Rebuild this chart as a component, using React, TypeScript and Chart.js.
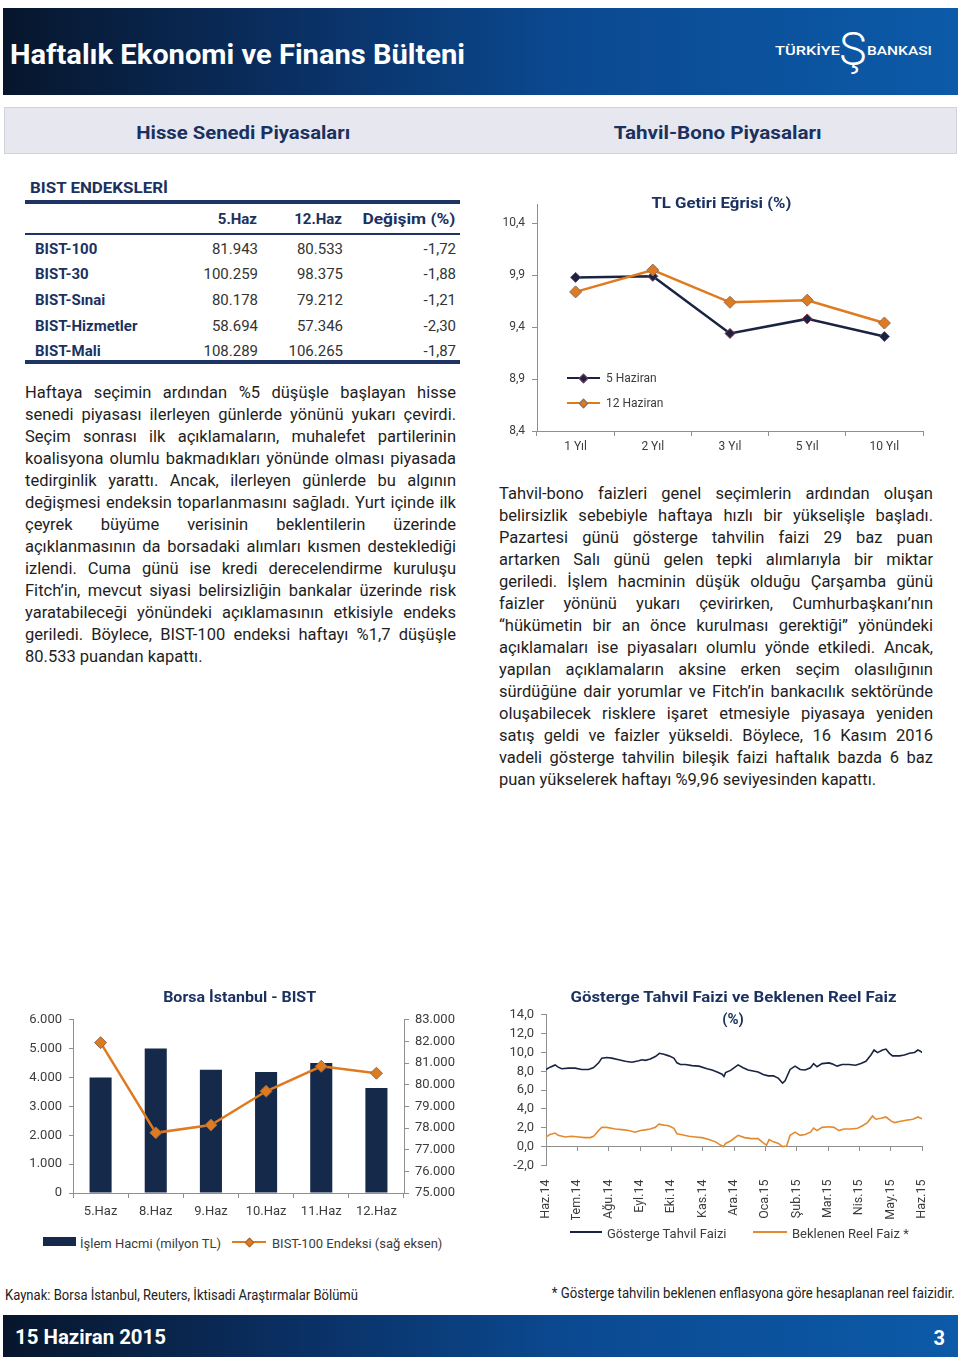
import React, { useEffect, useLayoutEffect, useRef } from 'react';
import { Chart, registerables } from 'chart.js';
Chart.register(...registerables);

// ---------- DATA ----------
const indexNames = ['BIST-100', 'BIST-30', 'BIST-Sınai', 'BIST-Hizmetler', 'BIST-Mali'];
const values5Haz = ['81.943', '100.259', '80.178', '58.694', '108.289'];
const values12Haz = ['80.533', '98.375', '79.212', '57.346', '106.265'];
const changePct = ['-1,72', '-1,88', '-1,21', '-2,30', '-1,87'];

const curveCategories = ['1 Yıl', '2 Yıl', '3 Yıl', '5 Yıl', '10 Yıl'];
const curve5Haz = [9.88, 9.89, 9.34, 9.48, 9.31];
const curve12Haz = [9.74, 9.95, 9.64, 9.66, 9.44];
const curveTicks = [8.4, 8.9, 9.4, 9.9, 10.4];

const bistDays = ['5.Haz', '8.Haz', '9.Haz', '10.Haz', '11.Haz', '12.Haz'];
const bistVolume = [4000, 5010, 4270, 4190, 4500, 3640];
const bist100 = [81943, 77780, 78140, 79700, 80850, 80533];

const monthLabels = ['Haz.14', 'Tem.14', 'Ağu.14', 'Eyl.14', 'Eki.14', 'Kas.14', 'Ara.14', 'Oca.15', 'Şub.15', 'Mar.15', 'Nis.15', 'May.15', 'Haz.15'];
const bondMonths = [0, 0.13, 0.29, 0.39, 0.5, 0.72, 0.93, 1.14, 1.36, 1.52, 1.68, 1.78, 1.94, 2.1, 2.32, 2.53, 2.74, 2.96, 3.06, 3.17, 3.33, 3.49, 3.62, 3.76, 3.92, 4.08, 4.18, 4.29, 4.45, 4.66, 4.88, 5.14, 5.3, 5.46, 5.62, 5.68, 5.73, 5.89, 6.13, 6.29, 6.45, 6.61, 6.77, 6.93, 7.09, 7.26, 7.42, 7.55, 7.63, 7.79, 7.95, 8.11, 8.27, 8.44, 8.54, 8.65, 8.81, 9.03, 9.13, 9.29, 9.45, 9.67, 9.88, 10.05, 10.21, 10.37, 10.47, 10.58, 10.74, 10.85, 10.96, 11.06, 11.28, 11.44, 11.6, 11.76, 11.87, 11.97, 12];
const bondYield = [8.2, 8.44, 8.68, 8.44, 8.27, 8.34, 8.34, 8.2, 8.2, 8.4, 8.9, 9.4, 9.47, 9.4, 9.23, 9.06, 8.96, 9.13, 9.23, 9.16, 9.3, 9.57, 9.91, 9.81, 9.64, 9.4, 8.9, 8.72, 8.72, 8.6, 8.55, 8.27, 8.14, 7.93, 7.69, 7.45, 7.86, 8.1, 8.68, 8.38, 8.14, 8.03, 7.93, 7.66, 7.52, 7.52, 7.25, 6.74, 7.0, 8.2, 8.55, 8.2, 8.14, 8.38, 8.82, 8.48, 8.82, 8.89, 8.79, 8.55, 8.72, 8.72, 8.65, 8.82, 9.06, 9.74, 10.26, 9.98, 10.26, 10.36, 9.91, 9.64, 9.64, 9.74, 9.91, 10.0, 10.26, 10.09, 9.96];
const realMonths = [0, 0.13, 0.29, 0.39, 0.61, 0.82, 1.04, 1.25, 1.41, 1.52, 1.68, 1.78, 1.94, 2.21, 2.42, 2.64, 2.85, 3.01, 3.17, 3.33, 3.49, 3.6, 3.76, 3.92, 4.08, 4.18, 4.34, 4.56, 4.77, 4.98, 5.2, 5.41, 5.57, 5.66, 5.73, 5.89, 6.13, 6.34, 6.56, 6.77, 6.93, 7.04, 7.12, 7.26, 7.42, 7.55, 7.68, 7.79, 7.95, 8.11, 8.27, 8.44, 8.54, 8.65, 8.81, 9.03, 9.19, 9.35, 9.51, 9.72, 9.94, 10.1, 10.26, 10.42, 10.53, 10.69, 10.85, 11.01, 11.12, 11.28, 11.49, 11.71, 11.87, 12];
const realRate = [1.03, 1.3, 1.44, 1.2, 1.03, 1.1, 1.03, 0.96, 0.96, 1.1, 1.71, 2.05, 2.05, 1.88, 1.81, 1.71, 1.54, 1.71, 1.78, 1.88, 2.05, 2.39, 2.29, 2.22, 1.95, 1.37, 1.26, 1.1, 1.03, 0.96, 0.75, 0.51, 0.17, 0.0, 0.34, 0.6, 1.2, 0.96, 0.85, 0.85, 0.41, 0.17, 0.75, 0.51, 0.34, 0.0, 0.07, 1.2, 1.54, 1.2, 1.3, 1.54, 1.98, 1.71, 2.05, 2.12, 2.05, 1.71, 1.88, 1.88, 1.95, 2.22, 2.56, 3.25, 2.91, 3.01, 3.15, 2.74, 2.56, 2.67, 2.8, 2.91, 3.15, 2.95];

const leftParagraph = [
  'Haftaya seçimin ardından %5 düşüşle başlayan hisse',
  'senedi piyasası ilerleyen günlerde yönünü yukarı çevirdi.',
  'Seçim sonrası ilk açıklamaların, muhalefet partilerinin',
  'koalisyona olumlu bakmadıkları yönünde olması piyasada',
  'tedirginlik yarattı. Ancak, ilerleyen günlerde bu algının',
  'değişmesi endeksin toparlanmasını sağladı. Yurt içinde ilk',
  'çeyrek büyüme verisinin beklentilerin üzerinde',
  'açıklanmasının da borsadaki alımları kısmen desteklediği',
  'izlendi. Cuma günü ise kredi derecelendirme kuruluşu',
  'Fitch\u2019in, mevcut siyasi belirsizliğin bankalar üzerinde risk',
  'yaratabileceği yönündeki açıklamasının etkisiyle endeks',
  'geriledi. Böylece, BIST-100 endeksi haftayı %1,7 düşüşle',
  '80.533 puandan kapattı.',
];
const rightParagraph = [
  'Tahvil-bono faizleri genel seçimlerin ardından oluşan',
  'belirsizlik sebebiyle haftaya hızlı bir yükselişle başladı.',
  'Pazartesi günü gösterge tahvilin faizi 29 baz puan',
  'artarken Salı günü gelen tepki alımlarıyla bir miktar',
  'geriledi. İşlem hacminin düşük olduğu Çarşamba günü',
  'faizler yönünü yukarı çevirirken, Cumhurbaşkanı\u2019nın',
  '\u201chükümetin bir an önce kurulması gerektiği\u201d yönündeki',
  'açıklamaları ise piyasaları olumlu yönde etkiledi. Ancak,',
  'yapılan açıklamaların aksine erken seçim olasılığının',
  'sürdüğüne dair yorumlar ve Fitch\u2019in bankacılık sektöründe',
  'oluşabilecek risklere işaret etmesiyle piyasaya yeniden',
  'satış geldi ve faizler yükseldi. Böylece, 16 Kasım 2016',
  'vadeli gösterge tahvilin bileşik faizi haftalık bazda 6 baz',
  'puan yükselerek haftayı %9,96 seviyesinden kapattı.',
];

// ---------- STYLE ----------
const FONT = 'Roboto, "Open Sans", sans-serif';
const NAVY_TEXT = '#1b3160';
const NAVY_LINE = '#1a2442';
const NAVY_BAR = '#15294b';
const ORANGE = '#e07a1f';
const AXIS = '#8f8f8f';
const TICK = '#3c3c3c';
const BODY = '#1e1e1e';
const BAND = 'linear-gradient(to right, #07162c 0%, #0a2f62 30%, #0b4a92 60%, #0c5aa8 100%)';

Chart.defaults.font.family = FONT;

const thousands = (v: number) => String(Math.round(v)).replace(/\B(?=(\d{3})+(?!\d))/g, '.');

// ---------- TEXT HELPERS ----------
type TxtProps = { x: number; y: number; children: any; size?: number; weight?: number; color?: string; align?: 'left' | 'right' | 'center'; w?: number };
function Txt({ x, y, children, size = 14, weight = 400, color = BODY, align = 'left', w }: TxtProps) {
  const ref = useRef<HTMLSpanElement>(null);
  useLayoutEffect(() => {
    const el = ref.current;
    if (!el || !w) return;
    el.style.transform = '';
    const nat = el.getBoundingClientRect().width;
    if (nat > 0) el.style.transform = `scaleX(${w / nat})`;
  }, [w, children]);
  const lh = Math.round(size * 1.3);
  const style: any = { position: 'absolute', top: y - lh / 2, lineHeight: lh + 'px', fontSize: size, fontWeight: weight, color, whiteSpace: 'nowrap', fontFamily: FONT };
  if (align === 'left') style.left = x;
  else if (align === 'right') style.right = 960 - x;
  else { style.left = x - 500; style.width = 1000; style.textAlign = 'center'; }
  const origin = align === 'left' ? 'left center' : align === 'right' ? 'right center' : 'center center';
  return (
    <div style={style}>
      <span ref={ref} style={{ display: 'inline-block', transformOrigin: origin }}>{children}</span>
    </div>
  );
}

function JLine({ x, y, w, text, justify, size }: { x: number; y: number; w: number; text: string; justify: boolean; size: number }) {
  const ref = useRef<HTMLSpanElement>(null);
  useLayoutEffect(() => {
    const el = ref.current;
    if (!el) return;
    el.style.wordSpacing = '0px';
    el.style.transform = '';
    const nat = el.getBoundingClientRect().width;
    const spaces = (text.match(/ /g) || []).length;
    if (nat > w) el.style.transform = `scaleX(${w / nat})`;
    else if (justify && spaces > 0) el.style.wordSpacing = `${(w - nat) / spaces}px`;
  }, [text, w, justify]);
  return (
    <div style={{ position: 'absolute', left: x, top: y - 11, lineHeight: '22px', fontSize: size, color: BODY, whiteSpace: 'nowrap', fontFamily: FONT }}>
      <span ref={ref} style={{ display: 'inline-block', transformOrigin: 'left center' }}>{text}</span>
    </div>
  );
}

function Paragraph({ x, y, w, lines, size }: { x: number; y: number; w: number; lines: string[]; size: number }) {
  return (
    <>
      {lines.map((t, i) => (
        <JLine key={i} x={x} y={y + i * 22} w={w} text={t} justify={i < lines.length - 1} size={size} />
      ))}
    </>
  );
}

function Box({ l, t, w, h, bg, extra }: { l: number; t: number; w: number; h: number; bg: string; extra?: any }) {
  return <div style={{ position: 'absolute', left: l, top: t, width: w, height: h, background: bg, ...(extra || {}) }} />;
}

function LegendLine({ x, y, w, color, diamond, diamondBorder, thick = 2.5 }: { x: number; y: number; w: number; color: string; diamond?: boolean; diamondBorder?: string; thick?: number }) {
  return (
    <>
      <div style={{ position: 'absolute', left: x, top: y - thick / 2, width: w, height: thick, background: color }} />
      {diamond && (
        <div style={{ position: 'absolute', left: x + w / 2 - 3.5, top: y - 3.5, width: 7, height: 7, background: color, border: `1px solid ${diamondBorder}`, boxSizing: 'border-box', transform: 'rotate(45deg)' }} />
      )}
    </>
  );
}

// ---------- CHARTS ----------
function useChart(factory: (c: HTMLCanvasElement) => Chart) {
  const ref = useRef<HTMLCanvasElement>(null);
  useEffect(() => {
    if (!ref.current) return;
    const ch = factory(ref.current);
    return () => ch.destroy();
  }, []);
  return ref;
}

function YieldCurveChart() {
  const ref = useChart((c) => new Chart(c, {
    type: 'line',
    data: {
      labels: curveCategories,
      datasets: [
        { label: '5 Haziran', data: curve5Haz, borderColor: NAVY_LINE, borderWidth: 2.5, pointStyle: 'rectRot', pointRadius: 5, pointBackgroundColor: NAVY_LINE, pointBorderColor: '#8a3552', pointBorderWidth: 1, order: 2 },
        { label: '12 Haziran', data: curve12Haz, borderColor: ORANGE, borderWidth: 2.5, pointStyle: 'rectRot', pointRadius: 6, pointBackgroundColor: ORANGE, pointBorderColor: '#857060', pointBorderWidth: 1, order: 1 },
      ],
    },
    options: {
      animation: false, responsive: false, maintainAspectRatio: false,
      layout: { padding: { top: 10, right: 5, left: 0, bottom: 0 } },
      plugins: { legend: { display: false }, tooltip: { enabled: false } },
      scales: {
        x: {
          offset: true,
          grid: { offset: true, drawOnChartArea: false, drawTicks: true, tickLength: 5, color: AXIS },
          border: { color: AXIS },
          ticks: { font: { size: 12 }, color: TICK, padding: 4 },
          afterFit: (s: any) => { s.height = 29; },
        },
        y: {
          min: 8.4, max: 10.585,
          afterBuildTicks: (s: any) => { s.ticks = curveTicks.map((v) => ({ value: v })); },
          ticks: { font: { size: 12 }, color: TICK, padding: 7, callback: (v: any) => Number(v).toFixed(1).replace('.', ',') },
          grid: { drawOnChartArea: false, tickLength: 5, color: AXIS },
          border: { color: AXIS },
          afterFit: (s: any) => { s.width = 47; },
        },
      },
    },
  } as any));
  return <canvas ref={ref} width={440} height={270} style={{ position: 'absolute', left: 490, top: 190, width: 440, height: 270 }} />;
}

function BistChart() {
  const ref = useChart((c) => new Chart(c, {
    type: 'bar',
    data: {
      labels: bistDays,
      datasets: [
        { type: 'line', label: 'BIST-100 Endeksi (sağ eksen)', data: bist100, yAxisID: 'y1', borderColor: ORANGE, borderWidth: 2.5, pointStyle: 'rectRot', pointRadius: 6, pointBackgroundColor: ORANGE, pointBorderColor: '#8a6a50', pointBorderWidth: 1, order: 1 },
        { type: 'bar', label: 'İşlem Hacmi (milyon TL)', data: bistVolume, yAxisID: 'y', backgroundColor: NAVY_BAR, barPercentage: 0.4, categoryPercentage: 1, order: 2 },
      ],
    },
    options: {
      animation: false, responsive: false, maintainAspectRatio: false,
      layout: { padding: { top: 13, right: 0, left: 0, bottom: 0 } },
      plugins: { legend: { display: false }, tooltip: { enabled: false } },
      scales: {
        x: {
          grid: { offset: true, drawOnChartArea: false, tickLength: 5, color: AXIS },
          border: { color: AXIS },
          ticks: { font: { size: 13 }, color: TICK, padding: 6 },
          afterFit: (s: any) => { s.height = 37; },
        },
        y: {
          position: 'left', min: 0, max: 6000,
          ticks: { stepSize: 1000, font: { size: 13 }, color: TICK, padding: 7, callback: (v: any) => thousands(v) },
          grid: { drawOnChartArea: false, tickLength: 4, color: AXIS },
          border: { color: AXIS },
          afterFit: (s: any) => { s.width = 73; },
        },
        y1: {
          position: 'right', min: 75000, max: 83000,
          ticks: { stepSize: 1000, font: { size: 13 }, color: TICK, padding: 6, callback: (v: any) => thousands(v) },
          grid: { drawOnChartArea: false, tickLength: 5, color: AXIS },
          border: { color: AXIS },
          afterFit: (s: any) => { s.width = 76; },
        },
      },
    },
  } as any));
  return <canvas ref={ref} width={480} height={225} style={{ position: 'absolute', left: 0, top: 1005, width: 480, height: 225 }} />;
}

function BondChart() {
  const ref = useChart((c) => new Chart(c, {
    type: 'line',
    data: {
      datasets: [
        { label: 'Gösterge Tahvil Faizi', xAxisID: 'x', data: bondMonths.map((m, i) => ({ x: m, y: bondYield[i] })), borderColor: NAVY_LINE, borderWidth: 1.6, pointRadius: 0 },
        { label: 'Beklenen Reel Faiz *', xAxisID: 'x', data: realMonths.map((m, i) => ({ x: m, y: realRate[i] })), borderColor: '#e38a2e', borderWidth: 1.6, pointRadius: 0 },
      ],
    },
    options: {
      animation: false, responsive: false, maintainAspectRatio: false,
      layout: { padding: { top: 7.5, right: 38, left: 0, bottom: 0 } },
      plugins: { legend: { display: false }, tooltip: { enabled: false } },
      scales: {
        x: {
          type: 'linear', position: 'bottom', min: 0, max: 12,
          afterBuildTicks: (s: any) => { s.ticks = monthLabels.map((_, i) => ({ value: i })); },
          ticks: { autoSkip: false, maxRotation: 90, minRotation: 90, font: { size: 12.5 }, color: TICK, padding: 6, callback: (v: any) => monthLabels[Math.round(v)] },
          grid: { display: false },
          border: { display: false },
          afterFit: (s: any) => { s.height = 54.5; },
        },
        x0: {
          type: 'linear', axis: 'x', position: { y: 0 }, min: 0, max: 12,
          afterBuildTicks: (s: any) => { s.ticks = monthLabels.map((_, i) => ({ value: i })); },
          ticks: { display: false },
          grid: { drawOnChartArea: false, tickLength: 4, color: AXIS },
          border: { color: AXIS },
        },
        y: {
          min: -2, max: 14,
          ticks: { stepSize: 2, font: { size: 13 }, color: TICK, padding: 7, callback: (v: any) => Number(v).toFixed(1).replace('.', ',') },
          grid: { drawOnChartArea: false, tickLength: 5, color: AXIS },
          border: { color: AXIS },
          afterFit: (s: any) => { s.width = 66; },
        },
      },
    },
  } as any));
  return <canvas ref={ref} width={480} height={220} style={{ position: 'absolute', left: 480, top: 1000, width: 480, height: 220 }} />;
}

// ---------- PAGE ----------
export default function App() {
  const rowY = [248.5, 274, 299.5, 325.5, 350.5];
  return (
    <div style={{ position: 'absolute', left: 0, top: 0, width: 960, height: 1359, background: '#fff', overflow: 'hidden', fontFamily: FONT }}>
      {/* Header band */}
      <Box l={3} t={8} w={955} h={87} bg={BAND} />
      <Txt x={10} y={55} size={28} weight={700} color="#fff" w={455}>Haftalık Ekonomi ve Finans Bülteni</Txt>
      <Txt x={775} y={50} size={13} weight={500} color="#fff" w={65}>TÜRKİYE</Txt>
      <Txt x={853} y={49} size={46} weight={300} color="#fff" align="center">Ş</Txt>
      <Txt x={867} y={50} size={13} weight={500} color="#fff" w={65}>BANKASI</Txt>

      {/* Section band */}
      <Box l={4} t={107} w={953} h={47} bg="#e7e7ef" extra={{ border: '1px solid #d2d2de', boxSizing: 'border-box' }} />
      <Txt x={243} y={132} size={19} weight={700} color={NAVY_TEXT} align="center" w={214}>Hisse Senedi Piyasaları</Txt>
      <Txt x={718} y={132} size={19} weight={700} color={NAVY_TEXT} align="center" w={208}>Tahvil-Bono Piyasaları</Txt>

      {/* Table */}
      <Txt x={30} y={188} size={15} weight={700} color={NAVY_TEXT} w={138}>BIST ENDEKSLERİ</Txt>
      <Box l={25} t={200} w={435} h={3.5} bg="#1e3462" />
      <Txt x={257} y={219} size={15} weight={700} color={NAVY_TEXT} align="right">5.Haz</Txt>
      <Txt x={342} y={219} size={15} weight={700} color={NAVY_TEXT} align="right">12.Haz</Txt>
      <Txt x={455} y={219} size={15} weight={700} color={NAVY_TEXT} align="right" w={93}>Değişim (%)</Txt>
      <Box l={25} t={233} w={435} h={2} bg="#1e3462" />
      {indexNames.map((n, i) => (
        <React.Fragment key={n}>
          <Txt x={35} y={rowY[i]} size={15} weight={700} color={NAVY_TEXT}>{n}</Txt>
          <Txt x={258} y={rowY[i]} size={15} color="#333" align="right">{values5Haz[i]}</Txt>
          <Txt x={343} y={rowY[i]} size={15} color="#333" align="right">{values12Haz[i]}</Txt>
          <Txt x={456} y={rowY[i]} size={15} color="#333" align="right">{changePct[i]}</Txt>
        </React.Fragment>
      ))}
      <Box l={25} t={360} w={435} h={3.5} bg="#1e3462" />

      {/* Paragraphs */}
      <Paragraph x={25} y={393} w={431} lines={leftParagraph} size={16.5} />
      <Paragraph x={499} y={494} w={434} lines={rightParagraph} size={16.5} />

      {/* Yield curve chart */}
      <YieldCurveChart />
      <Txt x={721} y={203} size={14.5} weight={700} color={NAVY_TEXT} align="center" w={140}>TL Getiri Eğrisi (%)</Txt>
      <LegendLine x={567} y={378} w={33} color={NAVY_LINE} diamond diamondBorder="#8a3552" />
      <Txt x={606} y={378} size={12} color={TICK}>5 Haziran</Txt>
      <LegendLine x={567} y={403} w={33} color={ORANGE} diamond diamondBorder="#857060" />
      <Txt x={606} y={403} size={12} color={TICK}>12 Haziran</Txt>

      {/* BIST chart */}
      <BistChart />
      <Txt x={240} y={997} size={15} weight={700} color={NAVY_TEXT} align="center" w={153}>Borsa İstanbul - BIST</Txt>
      <Box l={43} t={1237} w={33} h={9} bg={NAVY_BAR} />
      <Txt x={80} y={1243} size={13} color={TICK}>İşlem Hacmi (milyon TL)</Txt>
      <LegendLine x={232} y={1242} w={34} color={ORANGE} diamond diamondBorder="#8a6a50" />
      <Txt x={272} y={1243} size={13} color={TICK}>BIST-100 Endeksi (sağ eksen)</Txt>

      {/* Bond chart */}
      <BondChart />
      <Txt x={733} y={997} size={15} weight={700} color={NAVY_TEXT} align="center" w={326}>Gösterge Tahvil Faizi ve Beklenen Reel Faiz</Txt>
      <Txt x={733} y={1019} size={15} weight={700} color={NAVY_TEXT} align="center">(%)</Txt>
      <LegendLine x={570} y={1232} w={32} color={NAVY_LINE} thick={1.6} />
      <Txt x={607} y={1233} size={13} color={TICK}>Gösterge Tahvil Faizi</Txt>
      <LegendLine x={753} y={1232} w={34} color="#e38a2e" thick={1.6} />
      <Txt x={792} y={1233} size={13} color={TICK}>Beklenen Reel Faiz *</Txt>

      {/* Footer */}
      <Txt x={5} y={1295} size={14} color="#222" w={353}>Kaynak: Borsa İstanbul, Reuters, İktisadi Araştırmalar Bölümü</Txt>
      <Txt x={955} y={1293} size={14} color="#222" align="right" w={403}>* Gösterge tahvilin beklenen enflasyona göre hesaplanan reel faizidir.</Txt>
      <Box l={3} t={1315} w={955} h={42} bg={BAND} />
      <Txt x={15} y={1337} size={20} weight={700} color="#fff" w={151}>15 Haziran 2015</Txt>
      <Txt x={945} y={1338} size={20} weight={700} color="#fff" align="right">3</Txt>
    </div>
  );
}
